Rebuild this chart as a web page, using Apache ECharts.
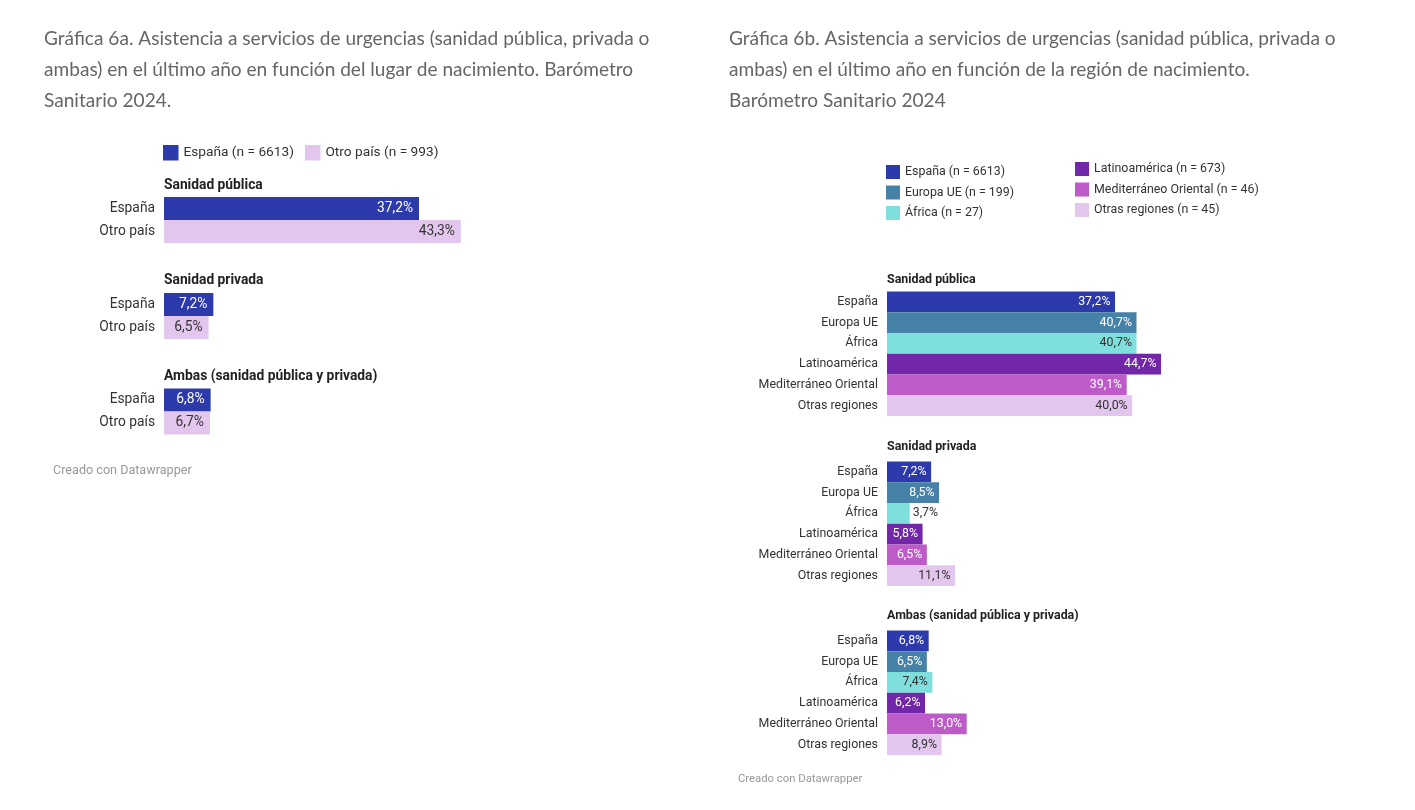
<!DOCTYPE html>
<html>
<head>
<meta charset="utf-8">
<script src="https://cdn.jsdelivr.net/npm/echarts@6/dist/echarts.min.js"></script>
<style>
html,body{margin:0;padding:0;background:#fff;}
#c{width:1415px;height:810px;}
</style>
</head>
<body>
<div id="c"></div>
<script>
// ---- Data ----
const groupTitles = ['Sanidad pública', 'Sanidad privada', 'Ambas (sanidad pública y privada)'];

// Chart 6a
const leftCats = ['España', 'Otro país'];
const leftLegend = ['España (n = 6613)', 'Otro país (n = 993)'];
const leftEspana = [37.2, 7.2, 6.8];
const leftOtroPais = [43.3, 6.5, 6.7];

// Chart 6b
const rightCats = ['España', 'Europa UE', 'África', 'Latinoamérica', 'Mediterráneo Oriental', 'Otras regiones'];
const rightLegend = ['España (n = 6613)', 'Europa UE (n = 199)', 'África (n = 27)', 'Latinoamérica (n = 673)', 'Mediterráneo Oriental (n = 46)', 'Otras regiones (n = 45)'];
const rEspana = [37.2, 7.2, 6.8];
const rEuropaUE = [40.7, 8.5, 6.5];
const rAfrica = [40.7, 3.7, 7.4];
const rLatinoamerica = [44.7, 5.8, 6.2];
const rMediterraneo = [39.1, 6.5, 13.0];
const rOtras = [40.0, 11.1, 8.9];

const titleLeft = 'Gráfica 6a. Asistencia a servicios de urgencias (sanidad pública, privada o\nambas) en el último año en función del lugar de nacimiento. Barómetro\nSanitario 2024.';
const titleRight = 'Gráfica 6b. Asistencia a servicios de urgencias (sanidad pública, privada o\nambas) en el último año en función de la región de nacimiento.\nBarómetro Sanitario 2024';
const credit = 'Creado con Datawrapper';

// ---- Styles ----
const cEspana = '#2d3aac', cOtro = '#e3c6ee';
const leftColors = [cEspana, cOtro];
const leftLabelColors = ['#ffffff', '#333333'];
const rightColors = [cEspana, '#4682a7', '#7fdfdd', '#7227a9', '#bd5cc8', cOtro];
const rightLabelColors = ['#ffffff', '#ffffff', '#333333', '#ffffff', '#ffffff', '#333333'];
const leftVals = [leftEspana, leftOtroPais];
const rightVals = [rEspana, rEuropaUE, rAfrica, rLatinoamerica, rMediterraneo, rOtras];

const FONT = 'Roboto';
const XMAX = 60;
const L = {x: 164, width: 6.855 * XMAX, tops: [197, 293, 388.5], h: 46, labelY: [185.5, 281, 376.5], fs: 13.8, dist: 6};
const R = {x: 887, width: 6.13 * XMAX, tops: [291.5, 461.5, 630.5], h: 124.5, labelY: [280, 447, 616], fs: 12.4, dist: 4.5};

const fmt = v => v.toFixed(1).replace('.', ',') + '%';

const grids = [], xAxes = [], yAxes = [], series = [], graphics = [];

function addChart(cfg, cats, names, vals, colors, labelColors, prefix) {
  const pxPer = cfg.width / XMAX;
  for (let g = 0; g < 3; g++) {
    const idx = grids.length;
    grids.push({left: cfg.x, top: cfg.tops[g], width: cfg.width, height: cfg.h, containLabel: false});
    xAxes.push({type: 'value', gridIndex: idx, min: 0, max: XMAX, show: false});
    yAxes.push({
      type: 'category', gridIndex: idx, data: cats, inverse: true,
      axisLine: {show: false}, axisTick: {show: false}, splitLine: {show: false},
      axisLabel: {color: '#333', fontFamily: FONT, fontSize: cfg.fs, margin: 9}
    });
    for (let k = 0; k < cats.length; k++) {
      const v = vals[k][g];
      const outside = v * pxPer < 34;
      series.push({
        type: 'bar', name: names[k], xAxisIndex: idx, yAxisIndex: idx,
        stack: prefix + g, barCategoryGap: '0%',
        itemStyle: {color: colors[k]},
        label: {
          show: true, position: 'insideRight', distance: cfg.dist,
          fontFamily: FONT, fontSize: cfg.fs, color: labelColors[k], formatter: p => fmt(p.value)
        },
        data: cats.map((c, i) => i === k ? (outside ? {value: v, label: {position: 'right', distance: 3, color: '#333'}} : v) : '-')
      });
    }
    graphics.push({
      type: 'text', x: cfg.x, y: cfg.labelY[g],
      style: {text: groupTitles[g], fontFamily: FONT, fontSize: cfg.fs, fontWeight: 'bold', fill: '#222', verticalAlign: 'middle'}
    });
  }
}

addChart(L, leftCats, leftLegend, leftVals, leftColors, leftLabelColors, 'L');
addChart(R, rightCats, rightLegend, rightVals, rightColors, rightLabelColors, 'R');

const titleStyle = {fontFamily: 'Lato', fontSize: 19.1, fill: '#666', lineHeight: 31};
graphics.push({type: 'text', left: 44, top: 23, style: Object.assign({text: titleLeft}, titleStyle)});
graphics.push({type: 'text', left: 729, top: 23, style: Object.assign({text: titleRight}, titleStyle)});
graphics.push({type: 'text', x: 53, y: 470.5, style: {text: credit, fontFamily: FONT, fontSize: 12.6, fill: '#999', verticalAlign: 'middle'}});
graphics.push({type: 'text', x: 738, y: 779.5, style: {text: credit, fontFamily: FONT, fontSize: 11.3, fill: '#999', verticalAlign: 'middle'}});

const legends = [
  {data: leftLegend, left: 163, top: 145, orient: 'horizontal', itemGap: 11, itemWidth: 15.5, itemHeight: 15.5,
   textStyle: {color: '#333', fontFamily: FONT, fontSize: 13.7}},
  {data: rightLegend.slice(0, 3), left: 886, top: 165, orient: 'vertical', itemGap: 6.5, itemWidth: 14, itemHeight: 14,
   textStyle: {color: '#333', fontFamily: FONT, fontSize: 12.4}},
  {data: rightLegend.slice(3), left: 1075, top: 162, orient: 'vertical', itemGap: 6.5, itemWidth: 14, itemHeight: 14,
   textStyle: {color: '#333', fontFamily: FONT, fontSize: 12.4}}
].map(l => Object.assign({icon: 'rect', selectedMode: false, padding: 0}, l));

const chart = echarts.init(document.getElementById('c'), null, {renderer: 'canvas'});
chart.setOption({
  animation: false,
  backgroundColor: '#fff',
  grid: grids, xAxis: xAxes, yAxis: yAxes, series: series,
  legend: legends,
  graphic: graphics
});
</script>
</body>
</html>
